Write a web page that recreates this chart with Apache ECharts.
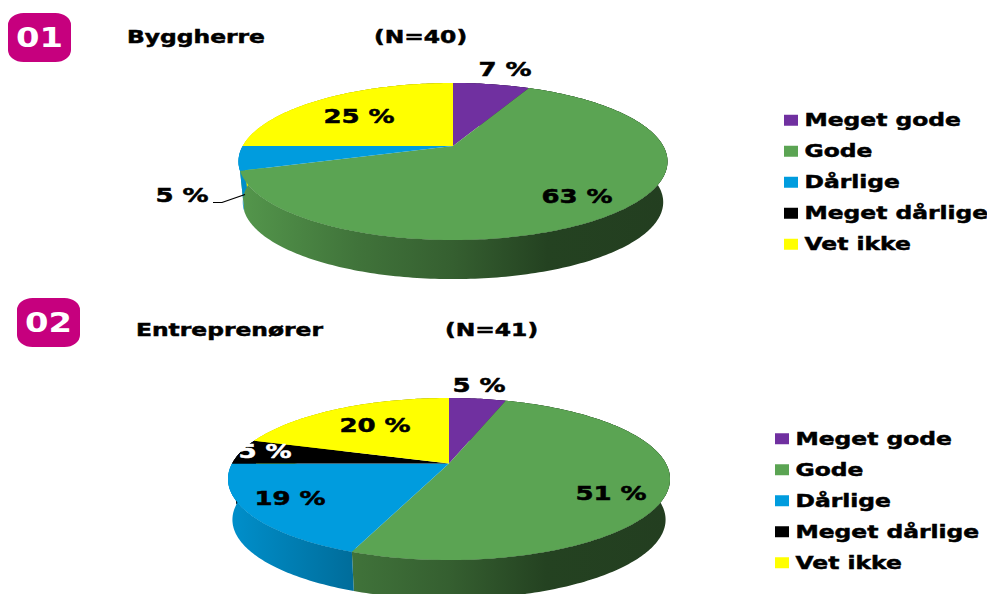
<!DOCTYPE html>
<html>
<head>
<meta charset="utf-8">
<style>
  html, body { margin: 0; padding: 0; background: #fff; width: 987px; height: 594px; overflow: hidden; }
  #chart { transform-origin: 0 0; }
</style>
<script src="https://cdn.jsdelivr.net/npm/echarts@6/dist/echarts.min.js"></script>
</head>
<body>
<div id="chart"></div>
<script>
// Survey answers per respondent group, in percent.
const categories = ['Meget gode', 'Gode', 'Dårlige', 'Meget dårlige', 'Vet ikke'];
const byggherreShares = [7, 63, 5, 0, 25];
const entreprenorShares = [5, 51, 19, 5, 20];
const sliceColors = ['#7030A0', '#5BA453', '#009CDE', '#000000', '#FFFF00'];
const labelColors = ['#000', '#000', '#000', '#fff', '#000'];

// The sheet is a wide-format slide: everything is drawn narrow and stretched sideways.
const STRETCH = 1.3;
const WIDTH = 987, HEIGHT = 594;
const FONT = '"DejaVu Sans", Verdana, sans-serif';
const HEAVY = 0.5;
const sx = (x) => x / STRETCH;

// Shading of the pie's side wall from its left edge to its right edge.
const wallShade = [[0, 0.92], [0.28, 0.7], [0.5, 0.58], [0.72, 0.4], [1, 0.38]];

const pies = [
  {
    shares: byggherreShares,
    cx: 453, cy: 146, rimTop: 63, rimBottom: 94, halfWidth: 214.5, depth: 41, shrink: 0.98,
    labels: [[505, 69], [577, 196], [182, 195], null, [359, 116]],
    leader: { sliceIndex: 2, points: [[213, 202.5], [222, 202.5], [245, 194.5]] }
  },
  {
    shares: entreprenorShares,
    cx: 449, cy: 463.5, rimTop: 65.5, rimBottom: 96.5, halfWidth: 221, depth: 41, shrink: 0.98,
    labels: [[479, 385], [611, 493], [290, 498], [265, 451], [375, 425]]
  }
];

// Perspective constants of a tilted disc: the far half looks shorter than the near half.
pies.forEach((p) => {
  p.k = (p.rimBottom - p.rimTop) / (p.rimBottom + p.rimTop);
  p.b = p.rimTop * (1 + p.k);
  p.a = p.halfWidth * Math.sqrt(1 - p.k * p.k);
});

function rimPoint(p, deg, r) {
  const t = deg * Math.PI / 180;
  const u = r * Math.sin(t), v = r * Math.cos(t), w = 1 + p.k * v;
  return [p.cx + p.a * u / w, p.cy - p.b * v / w];
}
function floorPoint(p, pt) {
  return [p.cx + p.shrink * (pt[0] - p.cx), p.cy + p.depth + p.shrink * (pt[1] - p.cy)];
}
function arcAngles(from, to) {
  const out = [];
  const n = Math.max(2, Math.ceil(to - from));
  for (let i = 0; i <= n; i++) out.push(from + (to - from) * i / n);
  return out;
}
const toChart = (pt) => [sx(pt[0]), pt[1]];

function shadedFill(hex, p) {
  const c = [1, 3, 5].map((i) => parseInt(hex.slice(i, i + 2), 16));
  const stops = wallShade.map(([offset, f]) => ({
    offset,
    color: 'rgb(' + c.map((v) => Math.round(v * f)).join(',') + ')'
  }));
  const half = p.halfWidth;
  return new echarts.graphic.LinearGradient(sx(p.cx - half), 0, sx(p.cx + half), 0, stops, true);
}

function sliceRenderer(p, index) {
  return function (params, api) {
    const value = api.value(0);
    const children = [];
    const total = p.shares.reduce((a, b) => a + b, 0);
    const before = p.shares.slice(0, index).reduce((a, b) => a + b, 0);
    const from = before / total * 360;
    const to = (before + value) / total * 360;
    if (value > 0) {
      const angles = arcAngles(from, to);
      const top = angles.map((d) => rimPoint(p, d, 1));
      const inner = angles.map((d) => rimPoint(p, d, 0.97));
      const floor = top.map((pt) => floorPoint(p, pt));
      // The wall runs from rim to floor; the inner band keeps the rim edge free of white seams.
      [top.concat(floor.slice().reverse()), inner.concat(top.slice().reverse())].forEach((band) => {
        children.push({
          type: 'polygon', z2: 1,
          shape: { points: band.map(toChart) },
          style: { fill: shadedFill(sliceColors[index], p) }
        });
      });
      children.push({
        type: 'polygon', z2: 5,
        shape: { points: [[p.cx, p.cy]].concat(top).map(toChart) },
        style: { fill: sliceColors[index] }
      });
      const at = p.labels[index];
      if (at) {
        children.push({
          type: 'text', z2: 10, x: sx(at[0]), y: at[1],
          style: {
            text: value + ' %', fill: labelColors[index],
            stroke: labelColors[index], lineWidth: HEAVY,
            fontFamily: FONT, fontWeight: 'bold', fontSize: 20,
            align: 'center', verticalAlign: 'middle'
          }
        });
      }
      if (p.leader && p.leader.sliceIndex === index) {
        children.push({
          type: 'polyline', z2: 10,
          shape: { points: p.leader.points.map(toChart) },
          style: { stroke: '#000', lineWidth: 1, fill: null }
        });
      }
    }
    return { type: 'group', children };
  };
}

const series = [];
pies.forEach((p) => {
  categories.forEach((name, i) => {
    series.push({
      type: 'custom',
      name,
      coordinateSystem: 'none',
      silent: true,
      clip: false,
      itemStyle: { color: sliceColors[i] },
      data: [[p.shares[i]]],
      renderItem: sliceRenderer(p, i)
    });
  });
});

function legendAt(left, top) {
  return {
    data: categories,
    orient: 'vertical',
    left: sx(left),
    top,
    padding: 0,
    icon: 'rect',
    itemWidth: sx(14),
    itemHeight: 11,
    itemGap: 12.5,
    selectedMode: false,
    textStyle: {
      fontFamily: FONT, fontWeight: 'bold', fontSize: 18, color: '#000',
      textBorderColor: '#000', textBorderWidth: HEAVY
    }
  };
}

function heading(text, left, top) {
  return {
    text, left: sx(left), top, padding: 0,
    textStyle: {
      fontFamily: FONT, fontWeight: 'bold', fontSize: 18, color: '#000',
      textBorderColor: '#000', textBorderWidth: HEAVY
    }
  };
}

function badge(text, left, top) {
  return {
    type: 'rect', x: sx(left), y: top,
    shape: { width: sx(63), height: 49, r: 12 },
    style: { fill: '#C6007E' },
    textContent: {
      style: { text, fill: '#fff', fontFamily: FONT, fontWeight: 'bold', fontSize: 26 }
    },
    textConfig: { position: 'inside' }
  };
}

const el = document.getElementById('chart');
const chartWidth = Math.ceil(WIDTH / STRETCH);
el.style.width = chartWidth + 'px';
el.style.height = HEIGHT + 'px';
el.style.transform = 'scaleX(' + STRETCH + ')';

const chart = echarts.init(el, null, { renderer: 'svg', width: chartWidth, height: HEIGHT });
chart.setOption({
  animation: false,
  backgroundColor: '#fff',
  title: [
    heading('Byggherre', 127, 28),
    heading('(N=40)', 374, 28),
    heading('Entreprenører', 136, 321),
    heading('(N=41)', 445, 321)
  ],
  legend: [legendAt(784, 111), legendAt(775, 429.5)],
  graphic: [badge('01', 8, 13), badge('02', 17, 298)],
  series
});
</script>
</body>
</html>
